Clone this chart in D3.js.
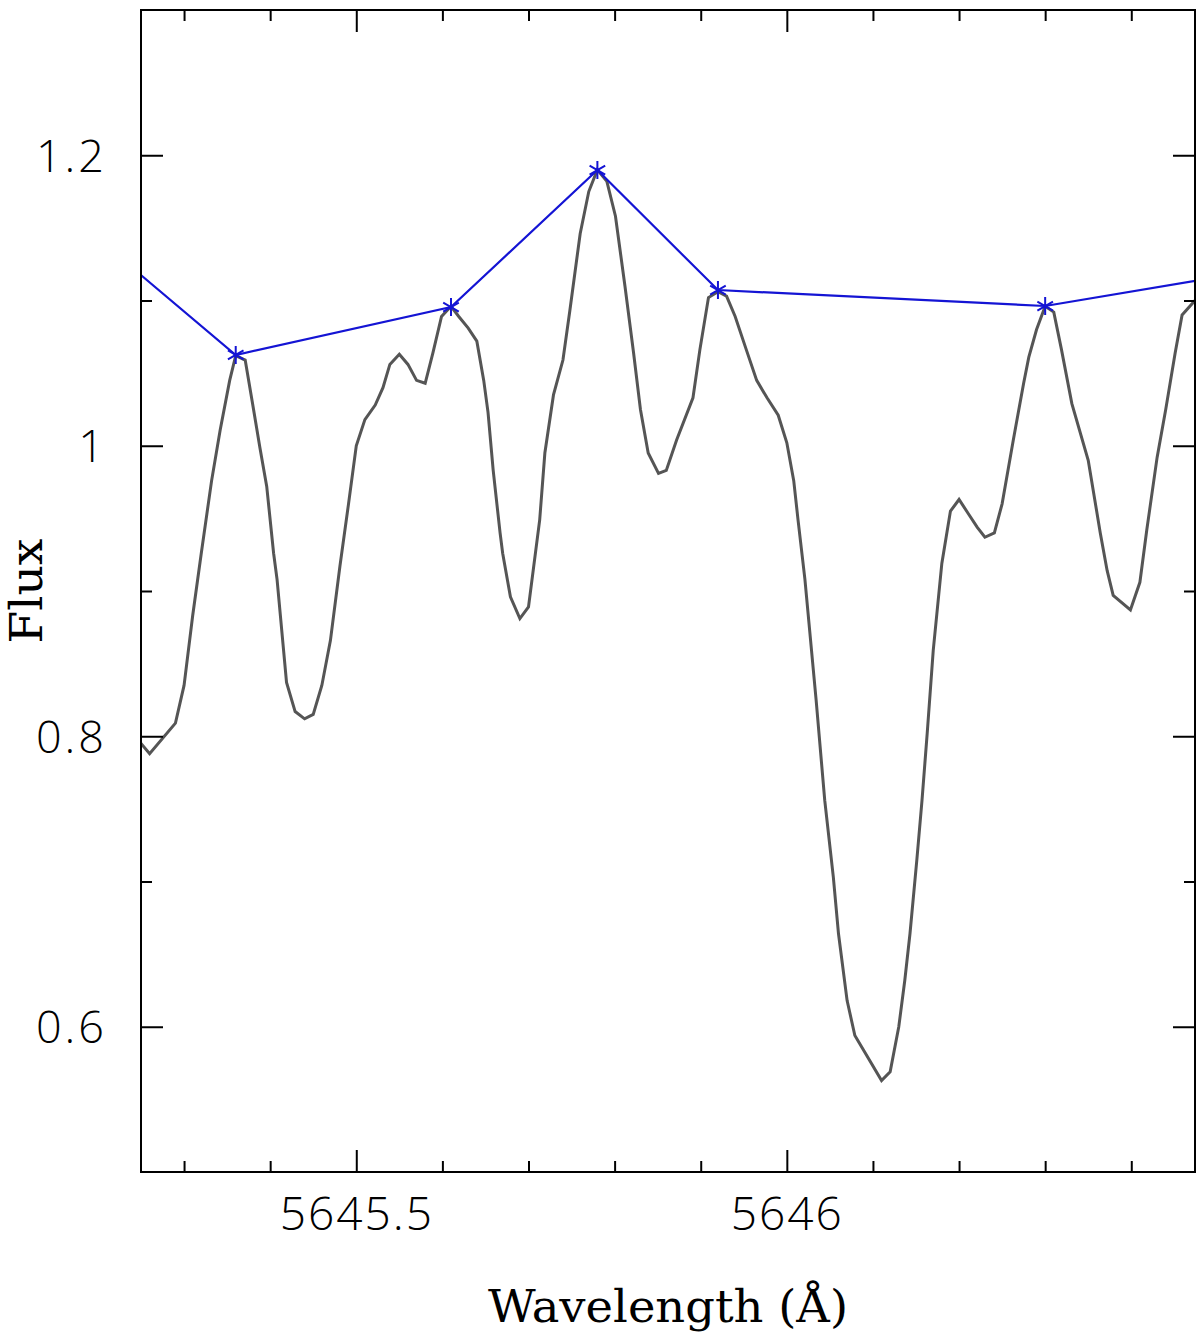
<!DOCTYPE html>
<html>
<head>
<meta charset="utf-8">
<script src="https://cdn.jsdelivr.net/npm/d3@7"></script>
<style>
  html, body { margin: 0; padding: 0; background: #fff; }
  svg { display: block; }
</style>
</head>
<body>
<svg id="chart" width="1200" height="1335"></svg>
<script>
// ---- data ----
const wavelength = [
  5645.250, 5645.260, 5645.290, 5645.300, 5645.310, 5645.320, 5645.332, 5645.342, 5645.353, 5645.360,
  5645.371, 5645.379, 5645.388, 5645.396, 5645.404, 5645.408, 5645.419, 5645.429, 5645.440, 5645.450,
  5645.460, 5645.470, 5645.481, 5645.491, 5645.500, 5645.510, 5645.522, 5645.531, 5645.539, 5645.550,
  5645.560, 5645.570, 5645.580, 5645.589, 5645.599, 5645.610, 5645.619, 5645.630, 5645.640, 5645.648,
  5645.653, 5645.659, 5645.667, 5645.670, 5645.679, 5645.690, 5645.700, 5645.713, 5645.719, 5645.729,
  5645.740, 5645.748, 5645.760, 5645.770, 5645.780, 5645.791, 5645.801, 5645.812, 5645.822, 5645.830,
  5645.839, 5645.851, 5645.860, 5645.872, 5645.891, 5645.899, 5645.909, 5645.920, 5645.930, 5645.940,
  5645.953, 5645.965, 5645.977, 5645.990, 5646.000, 5646.008, 5646.013, 5646.021, 5646.034, 5646.044,
  5646.054, 5646.060, 5646.070, 5646.079, 5646.089, 5646.110, 5646.120, 5646.130, 5646.137, 5646.143,
  5646.151, 5646.157, 5646.163, 5646.170, 5646.180, 5646.190, 5646.200, 5646.211, 5646.221, 5646.230,
  5646.241, 5646.250, 5646.263, 5646.275, 5646.281, 5646.290, 5646.300, 5646.310, 5646.319, 5646.331,
  5646.350, 5646.364, 5646.372, 5646.379, 5646.399, 5646.410, 5646.418, 5646.430, 5646.440, 5646.451,
  5646.459, 5646.474, 5646.480
];
const flux = [
  0.795, 0.788, 0.809, 0.835, 0.883, 0.926, 0.976, 1.011, 1.045, 1.062,
  1.059, 1.031, 0.999, 0.972, 0.926, 0.908, 0.837, 0.817, 0.812, 0.815,
  0.835, 0.866, 0.917, 0.960, 1.000, 1.018, 1.028, 1.040, 1.056, 1.063,
  1.056, 1.045, 1.043, 1.064, 1.089, 1.096, 1.089, 1.081, 1.072, 1.045,
  1.023, 0.983, 0.940, 0.926, 0.896, 0.881, 0.889, 0.949, 0.995, 1.035,
  1.059, 1.093, 1.146, 1.175, 1.190, 1.182, 1.158, 1.110, 1.064, 1.025,
  0.995, 0.981, 0.983, 1.004, 1.033, 1.066, 1.102, 1.106, 1.103, 1.089,
  1.066, 1.045, 1.033, 1.021, 1.002, 0.976, 0.949, 0.908, 0.825, 0.756,
  0.703, 0.664, 0.618, 0.594, 0.584, 0.563, 0.569, 0.600, 0.632, 0.664,
  0.715, 0.756, 0.802, 0.859, 0.919, 0.955, 0.963, 0.953, 0.944, 0.937,
  0.940, 0.960, 1.004, 1.043, 1.061, 1.080, 1.096, 1.092, 1.066, 1.029,
  0.990, 0.940, 0.914, 0.897, 0.887, 0.906, 0.942, 0.992, 1.025, 1.064,
  1.090, 1.100, 1.104
];
const contWave = [5645.15, 5645.36, 5645.61, 5645.78, 5645.92, 5646.30, 5646.55];
const contFlux = [1.1675, 1.0625, 1.0955, 1.1898, 1.1072, 1.0962, 1.121];

const xDomain = [5645.25, 5646.474];
const yDomain = [0.5, 1.3];
const xMajorTicks = [5645.5, 5646];
const xMajorLabels = ["5645.5", "5646"];
const xMinorTicks = [5645.3, 5645.4, 5645.6, 5645.7, 5645.8, 5645.9, 5646.1, 5646.2, 5646.3, 5646.4];
const yMajorTicks = [0.6, 0.8, 1.0, 1.2];
const yMajorLabels = ["0.6", "0.8", "1", "1.2"];
const yMinorTicks = [0.7, 0.9, 1.1];
const xTitle = "Wavelength (Å)";
const yTitle = "Flux";

// ---- layout ----
const L = 141, R = 1195, T = 10, B = 1172;
const svg = d3.select("#chart");
const x = d3.scaleLinear().domain(xDomain).range([L, R]);
const y = d3.scaleLinear().domain(yDomain).range([B, T]);

svg.append("defs").append("clipPath").attr("id", "clip")
  .append("rect").attr("x", L).attr("y", T).attr("width", R - L).attr("height", B - T);

// gray spectrum
const spec = wavelength.map((w, i) => [w, flux[i]]);
const line = d3.line().x(d => x(d[0])).y(d => y(d[1]));
svg.append("path")
  .attr("clip-path", "url(#clip)")
  .attr("d", line(spec))
  .attr("fill", "none")
  .attr("stroke", "#555555")
  .attr("stroke-width", 3)
  .attr("stroke-linejoin", "miter");

// blue continuum
const cont = contWave.map((w, i) => [w, contFlux[i]]);
const g = svg.append("g").attr("clip-path", "url(#clip)");
g.append("path")
  .attr("d", line(cont))
  .attr("fill", "none")
  .attr("stroke", "#1414d4")
  .attr("stroke-width", 2.2);
const star = "M0,-9V9M-7.8,-4.5L7.8,4.5M-7.8,4.5L7.8,-4.5";
g.selectAll("path.star").data(cont.filter(d => d[0] > xDomain[0] && d[0] < xDomain[1]))
  .join("path").attr("class", "star")
  .attr("transform", d => `translate(${x(d[0])},${y(d[1])})`)
  .attr("d", star)
  .attr("fill", "none")
  .attr("stroke", "#1414d4")
  .attr("stroke-width", 2);

// ticks via d3 axes (inward)
function addAxis(axisFn, scale, values, size, tx, ty, labels) {
  const a = axisFn(scale).tickValues(values).tickSize(-size).tickSizeOuter(0);
  if (labels) a.tickFormat((d, i) => labels[i]); else a.tickFormat("");
  const grp = svg.append("g").attr("transform", `translate(${tx},${ty})`).call(a);
  grp.select(".domain").remove();
  grp.selectAll(".tick line").attr("stroke", "#000").attr("stroke-width", 2);
  return grp;
}
const xb = addAxis(d3.axisBottom, x, xMajorTicks, 22, 0, B, xMajorLabels);
addAxis(d3.axisBottom, x, xMinorTicks, 11, 0, B, null);
addAxis(d3.axisTop, x, xMajorTicks, 22, 0, T, null);
addAxis(d3.axisTop, x, xMinorTicks, 11, 0, T, null);
const yl = addAxis(d3.axisLeft, y, yMajorTicks, 22, L, 0, yMajorLabels);
addAxis(d3.axisLeft, y, yMinorTicks, 11, L, 0, null);
addAxis(d3.axisRight, y, yMajorTicks, 22, R, 0, null);
addAxis(d3.axisRight, y, yMinorTicks, 11, R, 0, null);

const tickFont = "'Open Sans', 'Liberation Sans', sans-serif";
xb.selectAll(".tick text")
  .attr("y", 25).attr("dy", "0.71em")
  .attr("font-family", tickFont).attr("font-weight", 300)
  .attr("letter-spacing", 2)
  .attr("font-size", 46).attr("fill", "#000");
yl.selectAll(".tick text")
  .attr("x", -34).attr("dy", "0.36em")
  .attr("text-anchor", "end")
  .attr("letter-spacing", 3)
  .attr("font-family", tickFont).attr("font-weight", 300)
  .attr("font-size", 45).attr("fill", "#000");

// frame
svg.append("rect")
  .attr("x", L).attr("y", T).attr("width", R - L).attr("height", B - T)
  .attr("fill", "none").attr("stroke", "#000").attr("stroke-width", 2);

// titles
const titleFont = "'DejaVu Serif', 'Liberation Serif', serif";
svg.append("text")
  .attr("x", (L + R) / 2).attr("y", 1322)
  .attr("text-anchor", "middle")
  .attr("font-family", titleFont)
  .attr("font-size", 44).attr("fill", "#000")
  .attr("textLength", 360).attr("lengthAdjust", "spacingAndGlyphs")
  .text(xTitle);
svg.append("text")
  .attr("transform", `translate(42,${(T + B) / 2}) rotate(-90)`)
  .attr("text-anchor", "middle")
  .attr("font-family", titleFont)
  .attr("font-size", 44).attr("fill", "#000")
  .attr("textLength", 105).attr("lengthAdjust", "spacingAndGlyphs")
  .text(yTitle);
</script>
</body>
</html>
